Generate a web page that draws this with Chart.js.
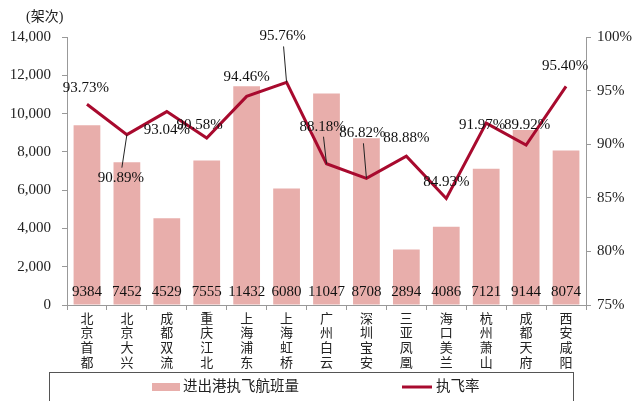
<!DOCTYPE html>
<html>
<head>
<meta charset="utf-8">
<script src="https://cdn.jsdelivr.net/npm/chart.js@4"></script>
<style>
  html, body { margin: 0; padding: 0; background: #fff; }
  #wrap { width: 633px; height: 401px; position: relative; }
</style>
</head>
<body>
<div id="wrap"><canvas id="chart" width="633" height="401"></canvas></div>
<script>
const airports = ['北京首都', '北京大兴', '成都双流', '重庆江北', '上海浦东', '上海虹桥', '广州白云',
    '深圳宝安', '三亚凤凰', '海口美兰', '杭州萧山', '成都天府', '西安咸阳'];
const flights = [9384, 7452, 4529, 7555, 11432, 6080, 11047, 8708, 2894, 4086, 7121, 9144, 8074];
const execRate = [93.73, 90.89, 93.04, 90.58, 94.46, 95.76, 88.18, 86.82, 88.88, 84.93, 91.97, 89.92, 95.40];

const barName = '进出港执飞航班量';
const lineName = '执飞率';
const unitText = '(架次)';

const barColor = '#e8aeab';
const lineColor = '#a80a2e';
const serif = '"Liberation Serif", "Noto Sans CJK SC", serif';

// label offset from point, and whether a leader line is drawn
const rateLabelPos = [
    [-1, -16, false], [-6, 43, true], [0, 18, false], [-7, -13, false], [0, -19, false],
    [-4, -46, true], [-4, -37, true], [-4, -45, true], [0, -18, false], [0, -16, false],
    [-4, 2, false], [1, -20, false], [-1, -20, false]
];

const labelPlugin = {
    id: 'labels',
    afterDatasetsDraw(chart) {
        const c = chart.ctx;
        c.save();
        c.fillStyle = '#111';
        c.font = '15px ' + serif;
        c.textAlign = 'center';
        c.textBaseline = 'middle';

        // bar values near the bottom
        const barMeta = chart.getDatasetMeta(0);
        const yBottom = chart.scales.y.getPixelForValue(0);
        barMeta.data.forEach((bar, i) => {
            c.fillText(String(flights[i]), bar.x, yBottom - 13);
        });

        // rate labels
        const lineMeta = chart.getDatasetMeta(1);
        lineMeta.data.forEach((pt, i) => {
            const [dx, dy, leader] = rateLabelPos[i];
            const lx = pt.x + dx, ly = pt.y + dy;
            if (leader) {
                c.strokeStyle = '#222';
                c.lineWidth = 1;
                c.beginPath();
                c.moveTo(pt.x, pt.y);
                c.lineTo(lx + 1, dy > 0 ? ly - 10 : ly + 10);
                c.stroke();
            }
            c.fillText(execRate[i].toFixed(2) + '%', lx, ly);
        });
        c.restore();
    },
    afterDraw(chart) {
        const c = chart.ctx;
        c.save();
        // unit
        c.fillStyle = '#222';
        c.font = '14px ' + serif;
        c.textAlign = 'left';
        c.textBaseline = 'middle';
        c.fillText(unitText, 26, 17);

        // legend box
        c.strokeStyle = '#555';
        c.lineWidth = 1;
        c.strokeRect(49.5, 372.5, 524, 60);

        c.fillStyle = barColor;
        c.fillRect(152, 383, 28, 8);
        c.fillStyle = '#222';
        c.font = '14.5px ' + serif;
        c.fillText(barName, 183, 387);

        c.strokeStyle = lineColor;
        c.lineWidth = 3;
        c.beginPath();
        c.moveTo(402, 387);
        c.lineTo(432, 387);
        c.stroke();
        c.fillText(lineName, 436, 387);
        c.restore();
    }
};

new Chart(document.getElementById('chart'), {
    data: {
        labels: airports.map(a => a.split('')),
        datasets: [
            {
                type: 'bar',
                label: barName,
                data: flights,
                backgroundColor: barColor,
                borderWidth: 0,
                categoryPercentage: 1,
                barPercentage: 0.67,
                yAxisID: 'y',
                order: 2
            },
            {
                type: 'line',
                label: lineName,
                data: execRate,
                borderColor: lineColor,
                backgroundColor: lineColor,
                borderWidth: 3,
                pointRadius: 0,
                tension: 0,
                yAxisID: 'y1',
                order: 1
            }
        ]
    },
    options: {
        responsive: false,
        animation: false,
        layout: { padding: { top: 37, left: 0, right: 0, bottom: 0 } },
        plugins: {
            legend: { display: false },
            tooltip: { enabled: false }
        },
        scales: {
            x: {
                offset: true,
                grid: { display: true, drawOnChartArea: false, offset: true, tickLength: 5, color: '#999' },
                border: { color: '#999' },
                ticks: {
                    color: '#222',
                    font: { family: serif, size: 13, lineHeight: 1.13 },
                    padding: 2,
                    maxRotation: 0,
                    autoSkip: false
                },
                afterFit(scale) { scale.height = 96; }
            },
            y: {
                position: 'left',
                min: 0,
                max: 14000,
                ticks: {
                    stepSize: 2000,
                    color: '#222',
                    font: { family: serif, size: 15 },
                    padding: 11,
                    callback: v => v.toLocaleString('en-US')
                },
                grid: { drawOnChartArea: false, tickLength: 5, color: '#999' },
                border: { color: '#999' },
                afterFit(scale) { scale.width = 67; }
            },
            y1: {
                position: 'right',
                min: 75,
                max: 100,
                ticks: {
                    stepSize: 5,
                    color: '#222',
                    font: { family: serif, size: 15 },
                    padding: 6,
                    callback: v => v + '%'
                },
                grid: { drawOnChartArea: false, tickLength: 5, color: '#999' },
                border: { color: '#999' },
                afterFit(scale) { scale.width = 47; }
            }
        }
    },
    plugins: [labelPlugin]
});
</script>
</body>
</html>
